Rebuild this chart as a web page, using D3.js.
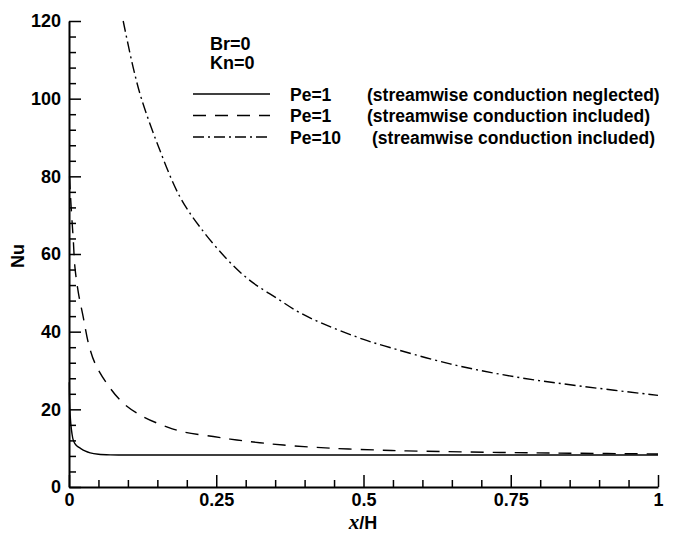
<!DOCTYPE html>
<html>
<head>
<meta charset="utf-8">
<script src="https://cdn.jsdelivr.net/npm/d3@7"></script>
<style>
  body { margin: 0; background: #fff; }
  text { font-family: "Liberation Sans", Arial, sans-serif; font-weight: bold; fill: #000; }
</style>
</head>
<body>
<div id="chart"></div>
<script>
var width = 680;
var height = 535;

// x/H and Nu
var solidX = [0.0005, 0.001, 0.002, 0.003, 0.005, 0.007, 0.01, 0.014, 0.019, 0.027, 0.036, 0.05, 0.07, 0.1, 0.2, 0.5, 1];
var solidY = [27, 22, 18.5, 16.4, 13.8, 12.2, 11.2, 10.5, 10.0, 9.3, 8.8, 8.45, 8.28, 8.24, 8.23, 8.23, 8.23];

var dashX = [0.001, 0.002, 0.0045, 0.0073, 0.010, 0.016, 0.024, 0.033, 0.044, 0.064, 0.092, 0.126, 0.166, 0.194, 0.245, 0.285, 0.324, 0.364, 0.443, 0.528, 0.573, 0.732, 0.85, 1];
var dashY = [80, 76.5, 70, 63.6, 56.7, 49.9, 43.9, 37.0, 31.9, 26.7, 21.6, 18.1, 15.5, 14.2, 13.0, 12.1, 11.4, 10.8, 10.0, 9.5, 9.3, 8.9, 8.7, 8.5];

var dashdotX = [0.092, 0.109, 0.123, 0.152, 0.188, 0.222, 0.268, 0.307, 0.353, 0.387, 0.42, 0.5, 0.534, 0.647, 0.76, 0.873, 1];
var dashdotY = [120, 108, 100, 87.6, 74.8, 67, 58.7, 53.2, 48.6, 45.3, 42.8, 38.0, 36.4, 31.7, 28.3, 25.9, 23.6];

var xTicks = [0, 0.25, 0.5, 0.75, 1];
var xTickLabels = ["0", "0.25", "0.5", "0.75", "1"];
var xMinor = [0.05, 0.1, 0.15, 0.2, 0.3, 0.35, 0.4, 0.45, 0.55, 0.6, 0.65, 0.7, 0.8, 0.85, 0.9, 0.95];
var yTicks = [0, 20, 40, 60, 80, 100, 120];
var yMinor = [4, 8, 12, 16, 24, 28, 32, 36, 44, 48, 52, 56, 64, 68, 72, 76, 84, 88, 92, 96, 104, 108, 112, 116];

var legendNames = ["Pe=1", "Pe=1", "Pe=10"];
var legendNotes = ["(streamwise conduction neglected)", "(streamwise conduction included)", "(streamwise conduction included)"];
var paramLines = ["Br=0", "Kn=0"];

var dashes = [null, "13,9", "11,4,2,4"];

var svg = d3.select("#chart")
  .append("svg")
  .attr("width", width)
  .attr("height", height);

var x = d3.scaleLinear().domain([0, 1]).range([69, 658]);
var y = d3.scaleLinear().domain([0, 120]).range([487, 21]);

// curves
var series = [
  { xs: solidX, ys: solidY },
  { xs: dashX, ys: dashY },
  { xs: dashdotX, ys: dashdotY }
];

var line = d3.line()
  .x(function(d) { return x(d[0]); })
  .y(function(d) { return y(d[1]); })
  .curve(d3.curveCatmullRom.alpha(0.5));

series.forEach(function(s, i) {
  var pts = s.xs.map(function(v, j) { return [v, s.ys[j]]; });
  svg.append("path")
    .datum(pts)
    .attr("d", line)
    .attr("fill", "none")
    .attr("stroke", "#000")
    .attr("stroke-width", 1.4)
    .attr("stroke-dasharray", dashes[i]);
});

// minor ticks
svg.append("g")
  .attr("transform", "translate(0," + y(0) + ")")
  .call(d3.axisBottom(x).tickValues(xMinor).tickSize(-7).tickSizeOuter(0).tickFormat(""))
  .call(function(g) { g.select(".domain").remove(); })
  .selectAll("line").attr("stroke-width", 1.5);

svg.append("g")
  .attr("transform", "translate(" + x(0) + ",0)")
  .call(d3.axisLeft(y).tickValues(yMinor).tickSize(-7).tickSizeOuter(0).tickFormat(""))
  .call(function(g) { g.select(".domain").remove(); })
  .selectAll("line").attr("stroke-width", 1.5);

// major ticks + labels
var xAxis = svg.append("g")
  .attr("transform", "translate(0," + y(0) + ")")
  .call(d3.axisBottom(x).tickValues(xTicks).tickSize(-12).tickSizeOuter(0).tickPadding(6)
    .tickFormat(function(d, i) { return xTickLabels[i]; }));

var yAxis = svg.append("g")
  .attr("transform", "translate(" + x(0) + ",0)")
  .call(d3.axisLeft(y).tickValues(yTicks).tickSize(-12).tickSizeOuter(0).tickPadding(8));

[xAxis, yAxis].forEach(function(g) {
  g.select(".domain").attr("stroke-width", 2);
  g.selectAll("line").attr("stroke-width", 1.5);
  g.selectAll("text")
    .style("font-family", "'Liberation Sans', Arial, sans-serif")
    .style("font-weight", "bold")
    .style("font-size", "18px")
    .attr("fill", "#000");
});

// axis titles
var xt = svg.append("text")
  .attr("x", 363)
  .attr("y", 529)
  .attr("text-anchor", "middle");
xt.append("tspan")
  .style("font-family", "'Liberation Serif', 'Times New Roman', serif")
  .style("font-style", "italic")
  .style("font-weight", "bold")
  .style("font-size", "21px")
  .text("x");
xt.append("tspan")
  .style("font-size", "18px")
  .text("/H");

svg.append("text")
  .attr("transform", "translate(24,256) rotate(-90)")
  .attr("text-anchor", "middle")
  .style("font-size", "18px")
  .text("Nu");

// parameters
svg.selectAll(".param")
  .data(paramLines)
  .enter().append("text")
  .attr("class", "param")
  .attr("x", 210)
  .attr("y", function(d, i) { return 50 + i * 19; })
  .style("font-size", "18px")
  .text(function(d) { return d; });

// legend
var leg = svg.selectAll(".leg")
  .data(legendNames)
  .enter().append("g")
  .attr("class", "leg")
  .attr("transform", function(d, i) { return "translate(0," + (94 + i * 21.5) + ")"; });

leg.append("line")
  .attr("x1", 193)
  .attr("x2", 270)
  .attr("stroke", "#000")
  .attr("stroke-width", 1.4)
  .attr("stroke-dasharray", function(d, i) { return dashes[i]; });

leg.append("text")
  .attr("x", 290)
  .attr("y", 6.5)
  .style("font-size", "17.5px")
  .text(function(d) { return d; });

leg.append("text")
  .attr("x", function(d, i) { return i == 2 ? 372 : 367; })
  .attr("y", 6.5)
  .style("font-size", "17.5px")
  .text(function(d, i) { return legendNotes[i]; });
</script>
</body>
</html>
